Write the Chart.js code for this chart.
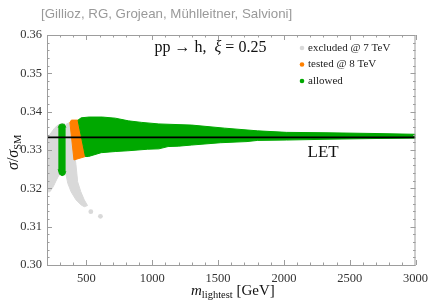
<!DOCTYPE html>
<html>
<head>
<meta charset="utf-8">
<script src="https://cdn.jsdelivr.net/npm/chart.js@4/dist/chart.umd.min.js"></script>
<style>
  html, body { margin: 0; padding: 0; background: #fff; }
</style>
</head>
<body>
<canvas id="chart" width="434" height="301"></canvas>
<script>
// edges of the point clouds: [m_lightest (GeV), sigma/sigma_SM]
const grayLeftTop = [[200,0.3329],[215,0.3337],[257,0.3357],[283,0.3365],[310,0.3369],[335,0.3369]];
const grayLeftBottom = [[200,0.3191],[222,0.3191],[247,0.3204],[272,0.3222],[292,0.3235],[335,0.3235]];
const greenStripTop = [[285,0.3358],[295,0.3366],[315,0.3368],[335,0.3366],[343,0.3358]];
const greenStripBottom = [[285,0.3250],[295,0.3237],[315,0.3233],[335,0.3236],[343,0.3245]];
const grayTailTop = [[341,0.3366],[360,0.3370],[380,0.3372],[405,0.3300],[410,0.3290],[420,0.3262],[433,0.3217],[457,0.3191],[483,0.3170],[508,0.3155]];
const grayTailBottom = [[341,0.3240],[345,0.3235],[358,0.3213],[383,0.3191],[420,0.3170],[458,0.3157],[483,0.3152],[508,0.3155]];
const orangeTop = [[374,0.3372],[385,0.3378],[436,0.3378],[492,0.3283]];
const orangeBottom = [[374,0.3372],[405,0.3274],[492,0.3283]];
const greenMainTop = [[436,0.3378],[460,0.3384],[520,0.3386],[620,0.3386],[720,0.3383],[820,0.3376],[920,0.3372],[1050,0.3368],[1300,0.3365],[1550,0.3357],[1800,0.3350],[2020,0.3346],[2320,0.3345],[2700,0.3343],[3000,0.3341]];
const greenMainBottom = [[436,0.3378],[492,0.3283],[515,0.3283],[612,0.3293],[718,0.3296],[815,0.3298],[965,0.3302],[1050,0.3303],[1120,0.3309],[1200,0.3310],[1300,0.3313],[1520,0.3319],[1720,0.3322],[1800,0.3325],[2020,0.3326],[2320,0.3328],[2700,0.3330],[3000,0.3331]];
const grayStray = [[533,0.3139],[606,0.3127]];
const letLine = [[200,0.3333],[3000,0.3333]];

const xTicks = [500, 1000, 1500, 2000, 2500, 3000];
const yTicks = [0.30, 0.31, 0.32, 0.33, 0.34, 0.35, 0.36];
const legendLabels = ['excluded @ 7 TeV', 'tested @ 8 TeV', 'allowed'];

const GRAY = '#d9d9d9', ORANGE = '#ff8000', GREEN = '#00a800';
const legendColors = [GRAY, ORANGE, GREEN];
const SERIF = '"Liberation Serif", "DejaVu Serif", serif';

const pts = arr => arr.map(p => ({x: p[0], y: p[1]}));

// upper edge + lower edge filled to the one before it
function band(top, bottom, color, order) {
  return [
    {data: pts(top), borderColor: color, backgroundColor: color, borderWidth: 1, pointRadius: 0, fill: false, order: order},
    {data: pts(bottom), borderColor: color, backgroundColor: color, borderWidth: 1, pointRadius: 0, fill: '-1', order: order}
  ];
}

//frame, inward ticks and all the text
const decor = {
  id: 'decor',
  afterDraw(chart) {
    const {ctx, chartArea: a, scales: {x, y}} = chart;
    ctx.save();
    ctx.strokeStyle = '#9d9d9d';
    ctx.lineWidth = 1;
    ctx.strokeRect(a.left + 0.5, a.top + 0.5, a.right - a.left - 1, a.bottom - a.top);
    ctx.beginPath();
    for (let v = 200; v <= 3000; v += 100) {
      const px = Math.round(x.getPixelForValue(v)) + 0.5;
      const len = v % 500 === 0 ? 5 : 2.5;
      ctx.moveTo(px, a.bottom); ctx.lineTo(px, a.bottom - len);
      ctx.moveTo(px, a.top); ctx.lineTo(px, a.top + len);
    }
    for (let i = 0; i <= 30; i++) {
      const py = Math.round(y.getPixelForValue(0.30 + i * 0.002)) + 0.5;
      const len = i % 5 === 0 ? 5 : 2.5;
      ctx.moveTo(a.left, py); ctx.lineTo(a.left + len, py);
      ctx.moveTo(a.right, py); ctx.lineTo(a.right - len, py);
    }
    ctx.stroke();

    // reference line above the frame
    ctx.fillStyle = '#999';
    ctx.font = '13.3px "Liberation Sans", Arial, sans-serif';
    ctx.textBaseline = 'alphabetic';
    ctx.fillText('[Gillioz, RG, Grojean, Mühlleitner, Salvioni]', 41, 18);

    // process label
    ctx.fillStyle = '#111';
    let tx = x.getPixelForValue(1017), ty = y.getPixelForValue(0.3556);
    ctx.font = '16px ' + SERIF;
    ctx.fillText('pp \u2192 h,  ', tx, ty);
    tx += ctx.measureText('pp \u2192 h,  ').width;
    ctx.font = 'italic 16px ' + SERIF;
    ctx.fillText('\u03be', tx, ty);
    tx += ctx.measureText('\u03be').width;
    ctx.font = '16px ' + SERIF;
    ctx.fillText(' = 0.25', tx, ty);

    // legend
    ctx.font = '11px ' + SERIF;
    ctx.textBaseline = 'middle';
    legendLabels.forEach((lab, i) => {
      const cy = a.top + 13 + i * 16.5;
      ctx.fillStyle = legendColors[i];
      ctx.beginPath();
      ctx.arc(a.left + 255, cy, 2.3, 0, Math.PI * 2);
      ctx.fill();
      ctx.fillStyle = '#222';
      ctx.fillText(lab, a.left + 261, cy);
    });

    ctx.textBaseline = 'alphabetic';
    ctx.font = '17px ' + SERIF;
    ctx.fillStyle = '#111';
    ctx.fillText('LET', x.getPixelForValue(2180), y.getPixelForValue(0.3282));

    // x title with subscript
    let bx = 191, by = 295;
    ctx.font = 'italic 15px ' + SERIF;
    ctx.fillText('m', bx, by);
    bx += ctx.measureText('m').width;
    ctx.font = '10.5px ' + SERIF;
    ctx.fillText('lightest', bx, by + 3);
    bx += ctx.measureText('lightest').width;
    ctx.font = '15px ' + SERIF;
    ctx.fillText(' [GeV]', bx, by);

    // y title, rotated
    ctx.translate(18, 170);
    ctx.rotate(-Math.PI / 2);
    let rx = 0;
    ctx.font = 'italic 16px ' + SERIF;
    ctx.fillText('\u03c3', rx, 0);
    rx += ctx.measureText('\u03c3').width;
    ctx.font = '16px ' + SERIF;
    ctx.fillText('/', rx, 0);
    rx += ctx.measureText('/').width;
    ctx.font = 'italic 16px ' + SERIF;
    ctx.fillText('\u03c3', rx, 0);
    rx += ctx.measureText('\u03c3').width;
    ctx.font = '10.5px ' + SERIF;
    ctx.fillText('SM', rx, 3);
    ctx.restore();
  }
};

const datasets = [
  {data: pts(letLine), borderColor: '#000', borderWidth: 1.6, pointRadius: 0, fill: false, order: 0},
  ...band(greenMainTop, greenMainBottom, GREEN, 1),
  ...band(orangeTop, orangeBottom, ORANGE, 2),
  ...band(greenStripTop, greenStripBottom, GREEN, 3),
  ...band(grayTailTop, grayTailBottom, GRAY, 4),
  ...band(grayLeftTop, grayLeftBottom, GRAY, 5),
  {data: pts(grayStray), showLine: false, pointRadius: 2.4, pointBorderWidth: 0, pointBackgroundColor: GRAY, order: 6}
];

new Chart(document.getElementById('chart'), {
  type: 'line',
  data: {datasets: datasets},
  plugins: [decor],
  options: {
    responsive: false,
    animation: false,
    layout: {padding: {top: 35, right: 13, left: 0, bottom: 0}},
    plugins: {legend: {display: false}, tooltip: {enabled: false}},
    events: [],
    scales: {
      x: {
        type: 'linear', min: 200, max: 3000,
        afterBuildTicks: s => { s.ticks = xTicks.map(v => ({value: v})); },
        afterFit: s => { s.height = 36; },
        grid: {display: false, drawTicks: false},
        border: {display: false},
        ticks: {padding: 6, color: '#333', font: {family: SERIF, size: 12.5}, maxRotation: 0, callback: v => String(v)}
      },
      y: {
        type: 'linear', min: 0.30, max: 0.36,
        afterBuildTicks: s => { s.ticks = yTicks.map(v => ({value: v})); },
        afterFit: s => { s.width = 47; },
        grid: {display: false, drawTicks: false},
        border: {display: false},
        ticks: {padding: 5, color: '#333', font: {family: SERIF, size: 12.5}, callback: v => v.toFixed(2)}
      }
    }
  }
});
</script>
</body>
</html>
